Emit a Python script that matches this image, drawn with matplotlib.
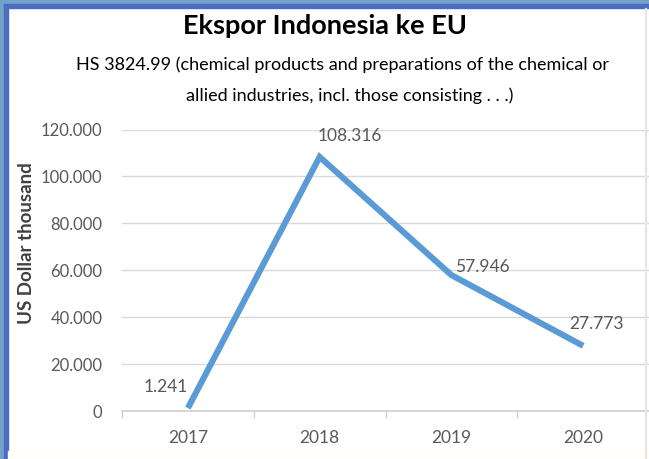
import matplotlib.pyplot as plt
from matplotlib.patches import Rectangle
from matplotlib.ticker import FuncFormatter, FixedLocator

# data (US Dollar thousand)
tahun = ['2017', '2018', '2019', '2020']
ekspor = [1241, 108316, 57946, 27773]
label_data = ['1.241', '108.316', '57.946', '27.773']
# offset label (points) relative to each point
offset_label = [(-16, 15), (22, 15), (22, 6), (10, 16)]
y_ticks = [0, 20000, 40000, 60000, 80000, 100000, 120000]

plt.rcParams['font.family'] = ['Lato', 'DejaVu Sans']

W, H = 649, 459
fig = plt.figure(figsize=(W / 100, H / 100), dpi=100)
fig.patch.set_facecolor('white')


def fx(px):
    return px / W


def fy(py):
    return 1 - py / H


# bingkai screenshot
fig.patches.append(Rectangle((0, 0), fx(4), 1, transform=fig.transFigure, color='#72a2c9', zorder=0))
fig.patches.append(Rectangle((fx(4), 0), fx(4), fy(4), transform=fig.transFigure, color='#4a6cc2', zorder=0))
fig.patches.append(Rectangle((0, fy(4)), 1, 4 / H, transform=fig.transFigure, color='#72a2c9', zorder=0))
fig.patches.append(Rectangle((fx(4), fy(8)), 1, 4 / H, transform=fig.transFigure, color='#4a6cc2', zorder=0))
fig.patches.append(Rectangle((fx(8), 0), 1, 8 / H, transform=fig.transFigure, color='#fffef8', zorder=0))
fig.patches.append(Rectangle((fx(645), 0), 1 / W, fy(8), transform=fig.transFigure, color='#e6e6e6', zorder=0))

ax = fig.add_axes([fx(122), fy(411), 1 - fx(122), (411 - 129.5) / H])
ax.set_facecolor('none')

x = list(range(len(tahun)))
ax.plot(x, ekspor, color='#5b9bd5', linewidth=4.4, solid_capstyle='butt', solid_joinstyle='miter', zorder=3)

for i, (v, lab) in enumerate(zip(ekspor, label_data)):
    ax.annotate(lab, (i, v), xytext=offset_label[i], textcoords='offset points',
                ha='center', va='center', fontsize=12.5, color='#595959')

ax.set_xlim(-0.5, 3.5)
ax.set_ylim(0, 120000)
ax.set_xticks(x)
ax.set_xticklabels(tahun)
ax.xaxis.set_minor_locator(FixedLocator([-0.5, 0.5, 1.5, 2.5]))
ax.tick_params(axis='x', which='major', length=0, pad=14, labelsize=12.5, labelcolor='#595959')
ax.tick_params(axis='x', which='minor', length=5, width=1, color='#d0d0d0')
ax.set_yticks(y_ticks)
ax.yaxis.set_major_formatter(FuncFormatter(lambda v, p: f'{int(v):,}'.replace(',', '.')))
ax.tick_params(axis='y', length=0, pad=14, labelsize=12, labelcolor='#595959')

ax.grid(axis='y', color='#d9d9d9', linewidth=1)
for s in ['top', 'right', 'left']:
    ax.spines[s].set_visible(False)
ax.spines['bottom'].set_color('#d0d0d0')
ax.spines['bottom'].set_linewidth(1.2)

fig.text(fx(27), fy(243), 'US Dollar thousand', rotation=90, ha='center', va='center',
         fontsize=13.5, fontweight='bold', color='#404040')

fig.text(fx(325), fy(26), 'Ekspor Indonesia ke EU', ha='center', va='center',
         fontsize=19.5, fontweight='bold', color='black')
fig.text(fx(343), fy(65), 'HS 3824.99 (chemical products and preparations of the chemical or',
         ha='center', va='center', fontsize=13, color='black')
fig.text(fx(350), fy(96), 'allied industries, incl. those consisting . . .)',
         ha='center', va='center', fontsize=13, color='black')

fig.savefig('out.png', dpi=100, facecolor='white')
